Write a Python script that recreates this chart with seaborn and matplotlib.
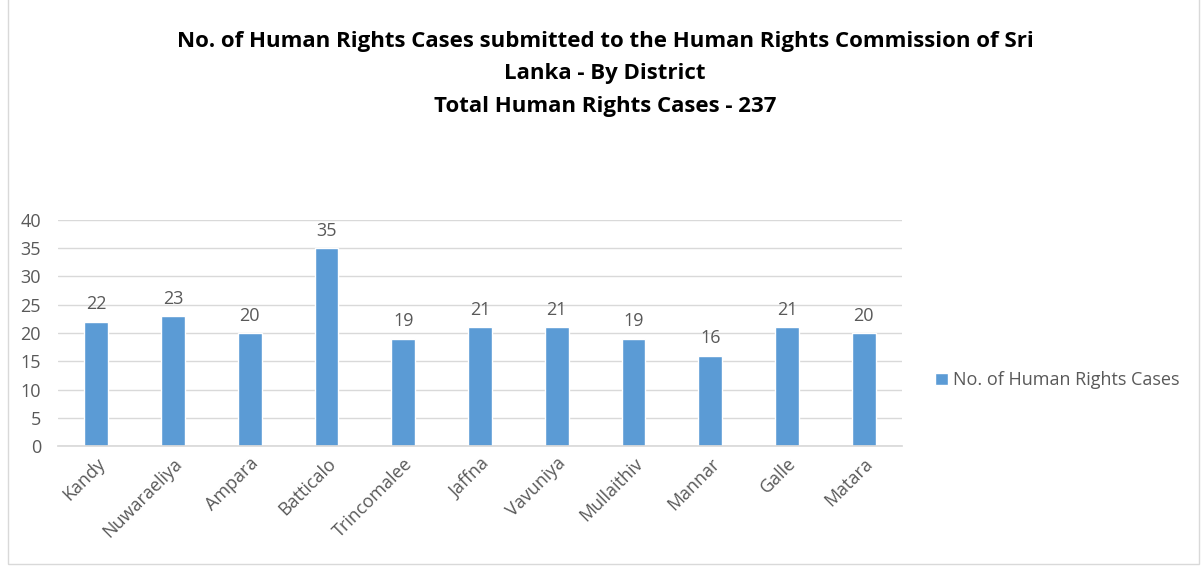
import matplotlib
matplotlib.use("Agg")
import matplotlib.pyplot as plt
import seaborn as sns
import pandas as pd
from matplotlib.patches import Rectangle

districts = ["Kandy", "Nuwaraeliya", "Ampara", "Batticalo", "Trincomalee", "Jaffna",
             "Vavuniya", "Mullaithiv", "Mannar", "Galle", "Matara"]
cases = [22, 23, 20, 35, 19, 21, 21, 19, 16, 21, 20]
series_name = "No. of Human Rights Cases"
title = ("No. of Human Rights Cases submitted to the Human Rights Commission of Sri\n"
         "Lanka - By District\nTotal Human Rights Cases - 237")

df = pd.DataFrame({"District": districts, "Cases": cases, "Series": series_name})

sns.set_theme(style="white")
plt.rcParams["font.family"] = ["Open Sans", "DejaVu Sans"]

grey = "#595959"
blue = "#5B9BD5"

fig = plt.figure(figsize=(12.03, 5.67), dpi=100)
ax = fig.add_axes([0.048, 0.2134, 0.702, 0.3986])

sns.barplot(data=df, x="District", y="Cases", hue="Series", palette=[blue],
            width=0.31, ax=ax, saturation=1)

for c in ax.containers:
    ax.bar_label(c, labels=[str(v) for v in cases], padding=6, fontsize=13, color=grey)

ax.set_ylim(0, 40)
ax.set_yticks(range(0, 41, 5))
ax.set_xlim(-0.5, len(districts) - 0.5)
ax.yaxis.grid(True, color="#D9D9D9", linewidth=1)
ax.set_axisbelow(True)
for s in ["top", "right", "left"]:
    ax.spines[s].set_visible(False)
ax.spines["bottom"].set_color("#D9D9D9")
ax.set_xlabel("")
ax.set_ylabel("")
ax.tick_params(axis="y", length=0, labelsize=13, labelcolor=grey, pad=12)
ax.tick_params(axis="x", length=0, labelsize=13, labelcolor=grey, pad=6)
plt.setp(ax.get_xticklabels(), rotation=45, ha="right", rotation_mode="anchor")

leg = ax.legend(loc="center left", bbox_to_anchor=(1.02, 0.29), frameon=False,
                fontsize=13, handlelength=0.7, handleheight=0.7, handletextpad=0.3)
for t in leg.get_texts():
    t.set_color(grey)

fig.text(0.503, 0.945, title, ha="center", va="top", fontsize=16, fontweight="bold",
         color="black", linespacing=1.7)

fig.patches.append(Rectangle((0.007, 0.006), 0.99, 1.2, transform=fig.transFigure,
                             fill=False, edgecolor="#D9D9D9", linewidth=1))

fig.savefig("out.png", dpi=100, facecolor="white")
